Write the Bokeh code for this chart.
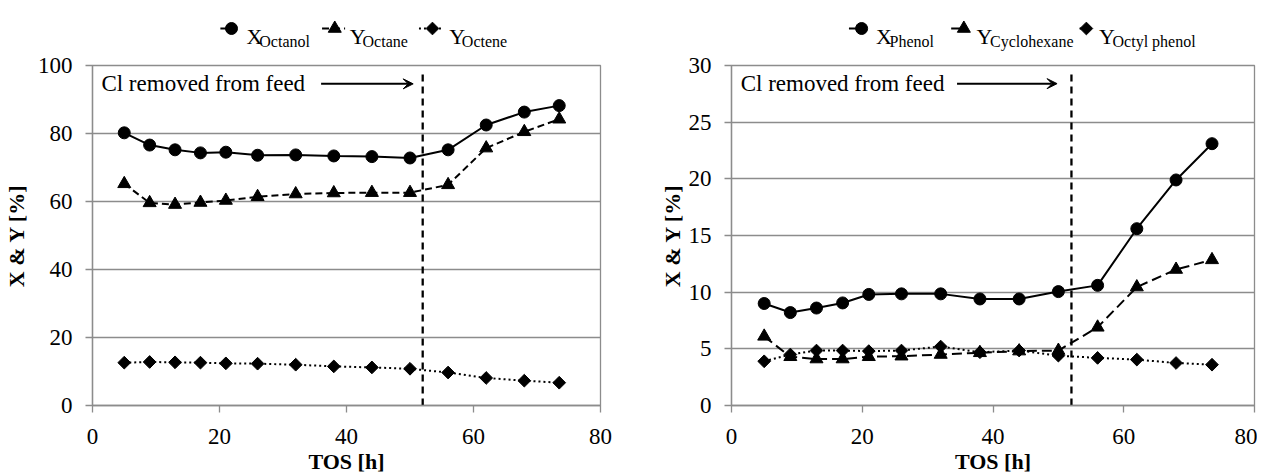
from bokeh.plotting import figure
from bokeh.models import Range1d, Label, Arrow, VeeHead, FixedTicker
from bokeh.layouts import row, column
from bokeh.core.properties import value
from bokeh.embed import file_html
from bokeh.resources import INLINE
import math

# ---------------- data ----------------
tos = [5, 9, 13, 17, 21, 26, 32, 38, 44, 50, 56, 62, 68, 73.5]

x_octanol = [80.2, 76.6, 75.2, 74.3, 74.5, 73.6, 73.7, 73.4, 73.2, 72.8, 75.2, 82.5, 86.3, 88.2]
y_octane = [65.2, 59.6, 59.1, 59.7, 60.3, 61.4, 62.2, 62.5, 62.6, 62.6, 64.9, 75.7, 80.5, 84.2]
y_octene = [12.6, 12.8, 12.7, 12.6, 12.4, 12.3, 12.0, 11.5, 11.2, 10.8, 9.7, 8.1, 7.3, 6.7]

x_phenol = [9.0, 8.2, 8.6, 9.05, 9.8, 9.85, 9.85, 9.4, 9.4, 10.05, 10.6, 15.6, 19.9, 23.1]
y_cyclohexane = [6.1, 4.3, 4.1, 4.1, 4.3, 4.35, 4.5, 4.65, 4.8, 4.85, 6.9, 10.45, 12.0, 12.85]
y_octyl_phenol = [3.9, 4.5, 4.85, 4.85, 4.8, 4.85, 5.2, 4.7, 4.85, 4.4, 4.2, 4.05, 3.75, 3.6]

x_ticks = [0, 20, 40, 60, 80]
left_y_ticks = [0, 20, 40, 60, 80, 100]
right_y_ticks = [0, 5, 10, 15, 20, 25, 30]

left_main = ["X", "Y", "Y"]
left_sub = ["Octanol", "Octane", "Octene"]
right_main = ["X", "Y", "Y"]
right_sub = ["Phenol", "Cyclohexane", "Octyl phenol"]

annotation_text = "Cl removed from feed"
cl_removed_tos = 52
x_title = "TOS [h]"
y_title = "X & Y [%]"

FONT = "Liberation Serif, Times New Roman, serif"
GRID = "#8c8c8c"
LEG_H = 53

styles = [
    dict(marker="circle", size=12, dash="solid", angle=0.0),
    dict(marker="triangle", size=13, dash="7 4", angle=0.0),
    dict(marker="square", size=9, dash="2 3", angle=math.pi / 4),
]
right_styles = [
    dict(marker="circle", size=12, dash="solid", angle=0.0),
    dict(marker="triangle", size=13, dash="10 5", angle=0.0),
    dict(marker="square", size=9, dash="2 3", angle=math.pi / 4),
]


def main_panel(series, sty, yticks, ymax, fw, bl, br, title_standoff, ann_y, vline_top, arrow_x0, arrow_x1):
    p = figure(frame_width=fw, frame_height=340,
               min_border_left=bl, min_border_right=br, min_border_top=12, min_border_bottom=68,
               x_range=Range1d(0, 80), y_range=Range1d(0, ymax),
               toolbar_location=None, output_backend="svg")
    p.background_fill_color = "white"
    p.border_fill_color = "white"
    p.outline_line_color = GRID
    p.outline_line_width = 1.3
    p.xgrid.visible = False
    p.ygrid.grid_line_color = GRID
    p.ygrid.grid_line_width = 1.3
    p.xaxis.ticker = FixedTicker(ticks=x_ticks)
    p.yaxis.ticker = FixedTicker(ticks=yticks)
    for ax in (p.xaxis[0], p.yaxis[0]):
        ax.axis_line_color = GRID
        ax.axis_line_width = 1.3
        ax.major_tick_line_color = GRID
        ax.major_tick_line_width = 1.3
        ax.major_tick_in = 0
        ax.major_tick_out = 7
        ax.minor_tick_line_color = None
        ax.major_label_text_font = FONT
        ax.major_label_text_font_size = "23px"
        ax.major_label_text_color = "black"
        ax.axis_label_text_font = FONT
        ax.axis_label_text_font_style = "bold"
        ax.axis_label_text_color = "black"
    p.xaxis.major_label_standoff = 16
    p.yaxis.major_label_standoff = 13
    p.xaxis.axis_label = x_title
    p.xaxis.axis_label_text_font_size = "22px"
    p.xaxis.axis_label_standoff = 2
    p.yaxis.axis_label = y_title
    p.yaxis.axis_label_text_font_size = "22px"
    p.yaxis.axis_label_standoff = title_standoff

    # vertical dashed marker line
    p.segment(x0=[cl_removed_tos], y0=[0], x1=[cl_removed_tos], y1=[vline_top],
              line_color="black", line_width=2.3, line_dash="7 5")

    for ys, s in zip(series, sty):
        p.line(tos, ys, line_color="black", line_width=2, line_dash=s["dash"])
    for ys, s in zip(series, sty):
        p.scatter(tos, ys, marker=s["marker"], size=s["size"], angle=s["angle"],
                  fill_color="black", line_color="black")

    p.add_layout(Label(x=1.4, y=ann_y, text=annotation_text, text_font=FONT,
                       text_font_size="23px", text_baseline="middle", text_color="black"))
    p.add_layout(Arrow(end=VeeHead(size=10, fill_color="black", line_color="black", line_width=1),
                       x_start=arrow_x0, y_start=ann_y, x_end=arrow_x1, y_end=ann_y,
                       line_color="black", line_width=2))
    return p


def legend_panel(width, offset, sym_lines, sym_marks, mains, subs, text_x, sty):
    lf = figure(width=width, height=LEG_H, x_range=Range1d(0, width), y_range=Range1d(LEG_H, 0),
                x_axis_type=None, y_axis_type=None, toolbar_location=None,
                output_backend="svg", min_border=0)
    lf.outline_line_color = None
    lf.grid.visible = False
    cy = 28
    for (a, b), m, s in zip(sym_lines, sym_marks, sty):
        lf.line([a - offset, b - offset], [cy, cy], line_color="black", line_width=2, line_dash=s["dash"])
        lf.scatter([m - offset], [cy], marker=s["marker"], size=s["size"], angle=s["angle"],
                   fill_color="black", line_color="black")
    lf.text(x=[t - offset for t in text_x], y=[36] * 3, text=mains,
            text_font=value(FONT), text_font_size="22px", text_baseline="alphabetic", text_color="black")
    lf.text(x=[t + 16 - offset for t in text_x], y=[41] * 3, text=subs,
            text_font=value(FONT), text_font_size="16px", text_baseline="alphabetic", text_color="black")
    return lf


p1 = main_panel([x_octanol, y_octane, y_octene], styles, left_y_ticks, 100, 508, 86, 38, 6, 94.6, 98, 36.0, 50.5)
p2 = main_panel([x_phenol, y_cyclohexane, y_octyl_phenol], right_styles, right_y_ticks, 30, 523, 93, 3, 1, 28.4, 29.4, 34.5, 49.8)

l1 = legend_panel(632, 8, [(169, 190), (297, 326), (419, 450)], [183, 313, 436],
                  left_main, left_sub, [202, 332, 457], styles)
l2 = legend_panel(619, 640, [(779, 794), (900, 915), (1052, 1060)], [794, 915, 1060],
                  right_main, right_sub, [811, 930, 1075], right_styles)

layout = row(column(l1, p1), column(l2, p2))
open("out.html", "w").write(file_html(layout, INLINE))
